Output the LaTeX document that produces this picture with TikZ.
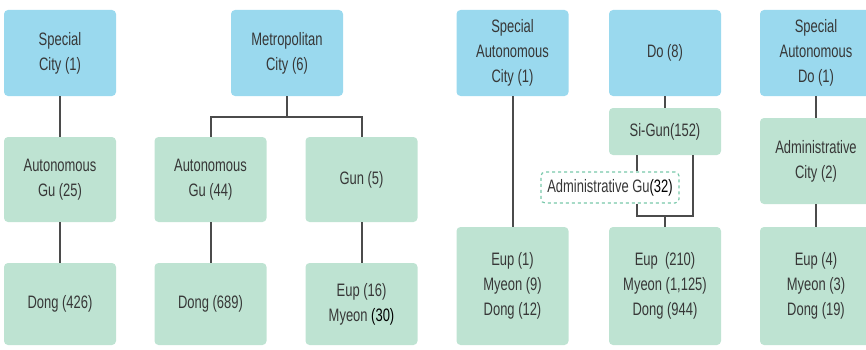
\documentclass[tikz,border=0pt]{standalone}
\usepackage{fontspec}
\setmainfont[FakeStretch=0.72]{Liberation Sans}
\definecolor{topblue}{RGB}{154,217,238}
\definecolor{subgreen}{RGB}{190,227,210}
\definecolor{txtgray}{RGB}{55,55,55}
\definecolor{linegray}{RGB}{75,75,75}
\definecolor{dashgreen}{RGB}{120,200,170}
\tikzset{
  unitbox/.style={rounded corners=4pt, minimum width=112pt, align=center,
    text=txtgray, font=\fontsize{18}{25}\selectfont, inner sep=0pt},
  topbox/.style={unitbox, fill=topblue, minimum height=86pt},
  subbox/.style={unitbox, fill=subgreen},
  admbox/.style={unitbox, fill=white, draw=dashgreen, dashed, line width=1.2pt,
    minimum width=138pt, minimum height=31pt},
  link/.style={draw=linegray, line width=2pt}
}
\begin{document}
\begin{tikzpicture}[x=1pt,y=1pt]
        \useasboundingbox (0,0) rectangle (866,349);
        % top level
        \node[topbox] (sc) at (60,296) {Special\\City (1)};
        \node[topbox] (mc) at (287,296) {Metropolitan\\City (6)};
        \node[topbox] (sac) at (512.5,296) {Special\\Autonomous\\City (1)};
        \node[topbox] (do) at (665,296) {Do (8)};
        \node[topbox] (sad) at (816,296) {Special\\Autonomous\\Do (1)};
        % middle level
        \node[subbox, minimum height=85pt] (agu1) at (60,169.5) {Autonomous\\Gu (25)};
        \node[subbox, minimum height=85pt] (agu2) at (210.5,169.5) {Autonomous\\Gu (44)};
        \node[subbox, minimum height=85pt] (gun) at (361.5,169.5) {Gun (5)};
        \node[subbox, minimum height=47pt] (sigun) at (665,217.5) {Si-Gun(152)};
        \node[admbox] (admgu) at (610,161.5) {Administrative Gu{\color{black}(32)}};
        \node[subbox, minimum height=86pt] (admcity) at (816,188) {Administrative\\City (2)};
        % bottom level
        \node[subbox, minimum height=82pt] (dong1) at (60,45) {Dong (426)};
        \node[subbox, minimum height=82pt] (dong2) at (210.5,45) {Dong (689)};
        \node[subbox, minimum height=82pt] (eup2) at (361.5,45) {Eup (16)\\Myeon {\color{black}(30)}};
        \node[subbox, minimum height=118pt] (eup3) at (512.5,63) {Eup (1)\\Myeon (9)\\Dong (12)};
        \node[subbox, minimum height=118pt] (eup4) at (665,63) {Eup\ \ (210)\\Myeon (1,125)\\Dong (944)};
        \node[subbox, minimum height=118pt] (eup5) at (816,63) {Eup (4)\\Myeon (3)\\Dong (19)};
        % connectors
        \draw[link] (sc) -- (agu1);
        \draw[link] (agu1) -- (dong1);
        \draw[link] (mc.south) -- ++(0,-21) coordinate (mcj);
        \draw[link] (agu2.north) |- (mcj) -| (gun.north);
        \draw[link] (agu2) -- (dong2);
        \draw[link] (gun) -- (eup2);
        \draw[link] (sac) -- (eup3);
        \draw[link] (do) -- (sigun);
        \coordinate (jr) at (693,133);
        \draw[link] ([xshift=-28pt]sigun.south) -- ([xshift=27pt]admgu.north);
        \draw[link] ([xshift=27pt]admgu.south) |- (jr) -- ([xshift=28pt]sigun.south);
        \draw[link] (eup4.north) -- (eup4.north |- jr);
        \draw[link] (sad) -- (admcity);
        \draw[link] (admcity) -- (eup5);
\end{tikzpicture}
\end{document}
